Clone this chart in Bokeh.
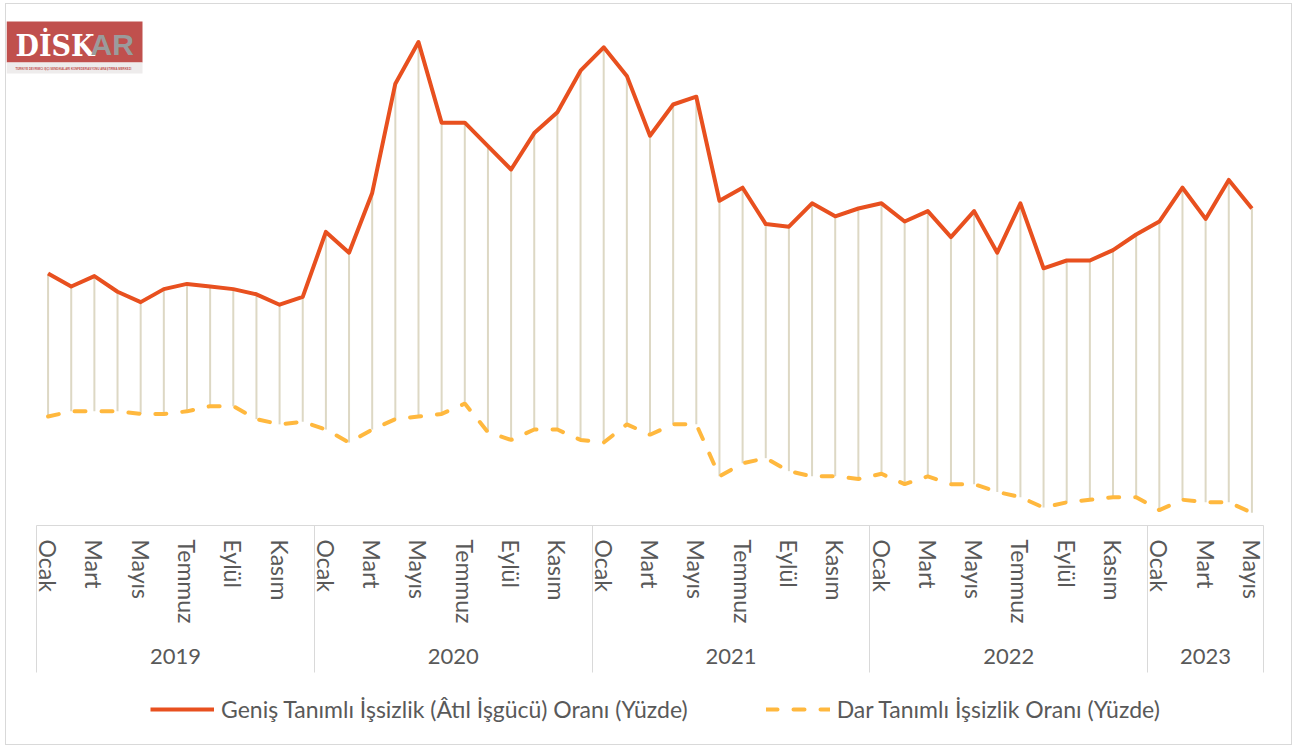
import math
from bokeh.plotting import figure
from bokeh.layouts import column
from bokeh.models import (Range1d, FixedTicker, LinearAxis, Legend, LegendItem,
                          BoxAnnotation, Label, ColumnDataSource)
from bokeh.embed import file_html
from bokeh.resources import INLINE

# ---------------- data ----------------
years = ["2019", "2020", "2021", "2022", "2023"]
months_per_year = [12, 12, 12, 12, 5]
month_names = ["Ocak", "Şubat", "Mart", "Nisan", "Mayıs", "Haziran",
               "Temmuz", "Ağustos", "Eylül", "Ekim", "Kasım", "Aralık"]

genis = [19.1, 18.6, 19.0, 18.4, 18.0, 18.5, 18.7, 18.6, 18.5, 18.3, 17.9, 18.2,
         20.7, 19.9, 22.2, 26.4, 28.0, 24.9, 24.9, 24.0, 23.1, 24.5, 25.3, 26.9,
         27.8, 26.7, 24.4, 25.6, 25.9, 21.9, 22.4, 21.0, 20.9, 21.8, 21.3, 21.6,
         21.8, 21.1, 21.5, 20.5, 21.5, 19.9, 21.8, 19.3, 19.6, 19.6, 20.0, 20.6,
         21.1, 22.4, 21.2, 22.7, 21.6]

dar = [13.6, 13.8, 13.8, 13.8, 13.7, 13.7, 13.8, 14.0, 14.0, 13.5, 13.3, 13.4,
       13.1, 12.6, 13.1, 13.5, 13.6, 13.7, 14.1, 13.0, 12.7, 13.1, 13.1, 12.7,
       12.6, 13.3, 12.9, 13.3, 13.3, 11.3, 11.8, 12.0, 11.5, 11.3, 11.3, 11.2,
       11.4, 11.0, 11.3, 11.0, 11.0, 10.7, 10.5, 10.1, 10.3, 10.4, 10.5, 10.5,
       10.0, 10.4, 10.3, 10.3, 9.9]

label_genis = "Geniş Tanımlı İşsizlik (Âtıl İşgücü) Oranı (Yüzde)"
label_dar = "Dar Tanımlı İşsizlik Oranı (Yüzde)"
logo_main = "DİSK"
logo_ar = "AR"
logo_sub = "TÜRKİYE DEVRİMCİ İŞÇİ SENDİKALARI KONFEDERASYONU ARAŞTIRMA MERKEZİ"

# ---------------- derived positions ----------------
n = len(genis)
idx = list(range(n))
month_ticks = list(range(0, n, 2))
month_overrides = {i: month_names[i % 12] for i in month_ticks}

bounds = [-0.5]
centers = []
start = 0
for c in months_per_year:
    centers.append(start + (c - 1) / 2)
    start += c
    bounds.append(start - 0.5)
year_overrides = {c: y for c, y in zip(centers, years)}

FONT = "Lato"
GREY_TXT = "#595959"
GRID = "#D9D9D9"
ORANGE = "#E8501F"
YELLOW = "#FFB83E"

W = 1285
H_MAIN, H_LEG = 680, 60
LEFT_PAD = 30            # px between frame left and first category edge
STEP = 1227 / n          # px per category
x_start = -0.5 - LEFT_PAD / STEP

p = figure(width=W, height=H_MAIN,
           x_range=Range1d(x_start, n - 0.5), y_range=Range1d(9.41, 28.83),
           output_backend="svg", toolbar_location=None,
           x_axis_location=None, y_axis_location=None,
           min_border_left=0, min_border_right=28,
           min_border_top=16, min_border_bottom=H_MAIN - 521)
p.xgrid.visible = False
p.ygrid.visible = False
p.outline_line_color = None
p.background_fill_color = "white"
p.border_fill_color = "white"

SEP = 147
month_axis = LinearAxis(
    ticker=FixedTicker(ticks=month_ticks, minor_ticks=bounds),
    bounds=(-0.5, n - 0.5),
    major_label_overrides=month_overrides,
    major_label_orientation="vertical",
    major_tick_line_color=None, major_tick_out=0, major_tick_in=0,
    minor_tick_line_color=GRID, minor_tick_line_width=1,
    minor_tick_out=SEP, minor_tick_in=0,
    axis_line_color=GRID, axis_line_width=1,
    major_label_text_font=FONT, major_label_text_font_size="23px",
    major_label_text_color=GREY_TXT, major_label_standoff=14 - SEP)
p.add_layout(month_axis, "below")

year_axis = LinearAxis(
    ticker=FixedTicker(ticks=centers),
    bounds=(-0.5, n - 0.5),
    major_label_overrides=year_overrides,
    major_tick_line_color=None, major_tick_out=0, major_tick_in=0,
    minor_tick_line_color=None, axis_line_color=None,
    major_label_text_font=FONT, major_label_text_font_size="22px",
    major_label_text_color=GREY_TXT, major_label_standoff=22)
p.add_layout(year_axis, "below")

src = ColumnDataSource(dict(x=idx, genis=genis, dar=dar))
p.segment(x0="x", y0="dar", x1="x", y1="genis", source=src,
          line_color="#DDD8C4", line_width=2)
p.line("x", "genis", source=src, line_color=ORANGE, line_width=4,
       line_join="round")
p.line("x", "dar", source=src, line_color=YELLOW, line_width=4,
       line_dash="11 16", line_cap="round")

# ---------------- logo ----------------
def sbox(l, r, t, b, color):
    return BoxAnnotation(left=l, right=r, top=t, bottom=b,
                         left_units="screen", right_units="screen",
                         top_units="screen", bottom_units="screen",
                         fill_color=color, fill_alpha=1, line_color=None)

p.add_layout(sbox(0, 136, 504, 463, "#C0504D"))
p.add_layout(sbox(0, 136, 463, 452, "#EEECEC"))
p.add_layout(Label(x=9, y=480, x_units="screen", y_units="screen", text=logo_main,
                   text_font="DejaVu Serif Condensed, DejaVu Serif",
                   text_font_style="bold",
                   text_font_size="30px", text_color="white",
                   text_baseline="middle"))
p.add_layout(Label(x=84, y=481, x_units="screen", y_units="screen", text=logo_ar,
                   text_font="Liberation Sans", text_font_style="bold",
                   text_font_size="30px", text_color="#9B9B9B",
                   text_baseline="middle"))
p.add_layout(Label(x=9, y=457, x_units="screen", y_units="screen", text=logo_sub,
                   text_font="Liberation Sans", text_font_style="bold",
                   text_font_size="2.9px", text_color="#C0504D",
                   text_baseline="middle"))

# ---------------- legend (own strip below the chart) ----------------
pl = figure(width=W, height=H_LEG, x_range=Range1d(0, 1), y_range=Range1d(0, 1),
            output_backend="svg", toolbar_location=None,
            x_axis_location=None, y_axis_location=None, min_border=0)
pl.xgrid.visible = False
pl.ygrid.visible = False
pl.outline_line_color = None
pl.border_fill_color = "white"
l1 = pl.line(x=[-2, -1], y=[-2, -1], line_color=ORANGE, line_width=4)
l2 = pl.line(x=[-2, -1], y=[-2, -1], line_color=YELLOW, line_width=4,
             line_dash="11 16", line_cap="round")
legend = Legend(items=[LegendItem(label=label_genis, renderers=[l1]),
                       LegendItem(label=label_dar, renderers=[l2])],
                orientation="horizontal", location=(144, 20),
                glyph_width=64, glyph_height=30, label_height=30,
                label_standoff=7, spacing=78, padding=0, margin=0,
                border_line_color=None, background_fill_alpha=0,
                label_text_font=FONT, label_text_font_size="23px",
                label_text_color=GREY_TXT)
pl.add_layout(legend)

layout = column(p, pl, spacing=0,
                styles={"border": "1px solid #D9D9D9", "margin-left": "5px",
                        "margin-top": "3px"})

open("out.html", "w").write(file_html(layout, INLINE))
